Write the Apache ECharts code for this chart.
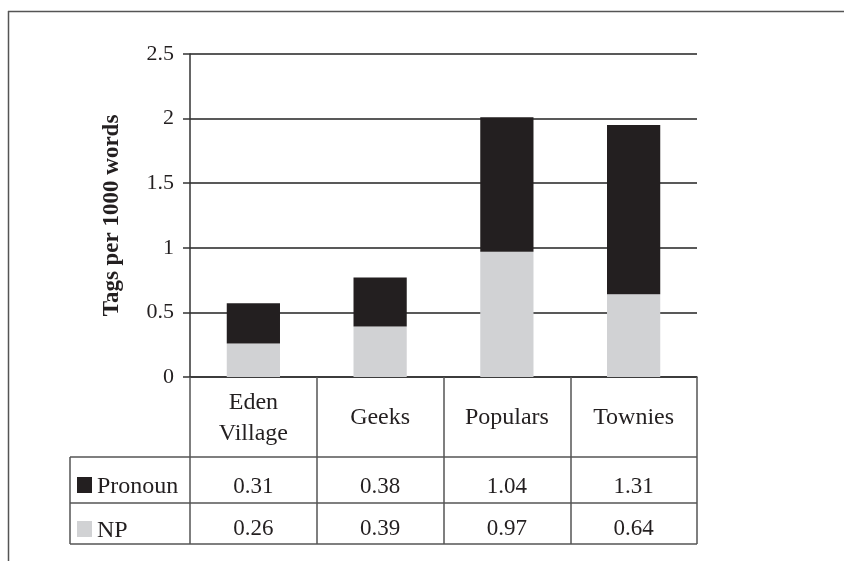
<!DOCTYPE html>
<html>
<head>
<meta charset="utf-8">
<script src="https://cdn.jsdelivr.net/npm/echarts@6/dist/echarts.min.js"></script>
<style>
html,body{margin:0;padding:0;background:#fff;}
#c{width:844px;height:561px;}
</style>
</head>
<body>
<div id="c"></div>
<script>
const categories = ['Eden\nVillage', 'Geeks', 'Populars', 'Townies'];
const seriesNames = ['Pronoun', 'NP'];
const pronoun = [0.31, 0.38, 1.04, 1.31];
const np = [0.26, 0.39, 0.97, 0.64];
const yTicks = [0, 0.5, 1, 1.5, 2, 2.5];

const FONT = '"Liberation Serif", "DejaVu Serif", serif';
const BLACK = '#231f20';
const GRAY = '#d1d2d4';
const LINE = '#555';
const TXT = '#231f20';

const chart = echarts.init(document.getElementById('c'), null, {renderer: 'canvas'});

const G = {left: 190, right: 147, top: 54, bottom: 184};
const W = 844, H = 561;
const gx0 = G.left, gx1 = W - G.right, gy1 = H - G.bottom;
const rowTop = 457, rowMid = 503, rowBot = 544, tableLeft = 70;

function hline(y, x0, x1, color) {
  return {type: 'line', shape: {x1: x0, y1: y, x2: x1, y2: y}, style: {stroke: color || LINE, lineWidth: 1.5}, silent: true};
}
function vline(x, y0, y1, color) {
  return {type: 'line', shape: {x1: x, y1: y0, x2: x, y2: y1}, style: {stroke: color || LINE, lineWidth: 1.5}, silent: true};
}
function key(name, color, yCenter) {
  return [
    {type: 'rect', shape: {x: 77, y: yCenter - 8, width: 15, height: 16}, style: {fill: color}, silent: true},
    {type: 'text', x: 97, y: yCenter + 2, style: {text: name, font: '24px ' + FONT, fill: TXT, textVerticalAlign: 'middle', textAlign: 'left'}, silent: true}
  ];
}

const valueAxis = (data, margin) => ({
  type: 'category',
  gridIndex: 0,
  position: 'bottom',
  data: data.map(v => v.toFixed(2)),
  axisLine: {show: false},
  axisTick: {show: false},
  splitLine: {show: false},
  axisLabel: {
    interval: 0, margin: margin, verticalAlign: 'middle',
    fontFamily: FONT, fontSize: 23, color: TXT
  }
});

chart.setOption({
  animation: false,
  backgroundColor: '#fff',
  grid: {left: G.left, right: G.right, top: G.top, bottom: G.bottom, outerBoundsMode: 'none', containLabel: false},
  xAxis: [
    {
      type: 'category',
      data: categories,
      axisLine: {show: true, lineStyle: {color: '#333', width: 1.5}},
      axisTick: {show: true, alignWithLabel: false, length: rowBot - gy1, lineStyle: {color: LINE, width: 1.5}},
      axisLabel: {
        interval: 0, margin: 41, verticalAlign: 'middle', lineHeight: 31,
        fontFamily: FONT, fontSize: 24, color: TXT
      },
      splitLine: {show: false}
    },
    valueAxis(pronoun, 110),
    valueAxis(np, 152)
  ],
  yAxis: {
    type: 'value',
    min: 0, max: 2.5, interval: 0.5,
    name: 'Tags per 1000 words',
    nameLocation: 'middle',
    nameGap: 66,
    nameTextStyle: {fontFamily: FONT, fontSize: 23, fontWeight: 'bold', color: TXT},
    axisLine: {show: true, lineStyle: {color: '#333', width: 1.5}},
    axisTick: {show: true, length: 7, lineStyle: {color: '#333', width: 1.5}},
    axisLabel: {
      margin: 16, fontFamily: FONT, fontSize: 22, color: TXT,
      formatter: v => {
        const t = yTicks.find(x => Math.abs(x - v) < 1e-9);
        return t === undefined ? '' : String(t);
      }
    },
    splitLine: {show: true, lineStyle: {color: '#222', width: 1.5}}
  },
  series: [
    {
      name: seriesNames[1], type: 'bar', stack: 'total', data: np,
      barWidth: '42%', itemStyle: {color: GRAY}, xAxisIndex: 0
    },
    {
      name: seriesNames[0], type: 'bar', stack: 'total', data: pronoun,
      barWidth: '42%', itemStyle: {color: BLACK}, xAxisIndex: 0
    }
  ],
  graphic: [
    hline(11.5, 8, W),
    vline(8.5, 11, H),
    hline(rowTop, tableLeft, gx1),
    hline(rowMid, tableLeft, gx1),
    hline(rowBot, tableLeft, gx1),
    vline(tableLeft, rowTop, rowBot)
  ].concat(key(seriesNames[0], BLACK, 485), key(seriesNames[1], GRAY, 529))
});
</script>
</body>
</html>
